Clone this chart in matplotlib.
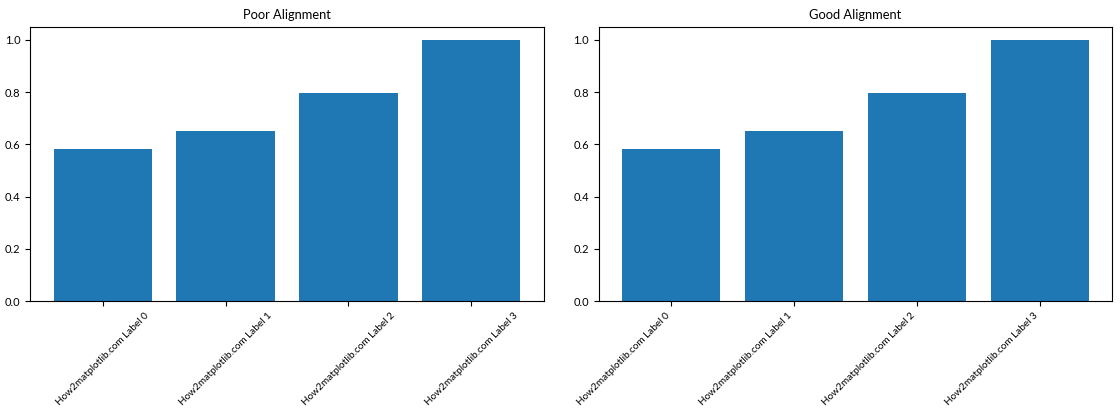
import matplotlib
matplotlib.use("Agg")
import matplotlib.pyplot as plt

# data
labels = ["How2matplotlib.com Label 0", "How2matplotlib.com Label 1",
          "How2matplotlib.com Label 2", "How2matplotlib.com Label 3"]
values = [0.583, 0.652, 0.796, 1.0]

plt.rcParams['font.family'] = ['Lato', 'DejaVu Sans']
plt.rcParams['font.size'] = 7.2
plt.rcParams['ytick.labelsize'] = 8

fig, (ax1, ax2) = plt.subplots(1, 2, figsize=(11.2, 4.2), dpi=100)

# 1. poor alignment: rotated but centered
ax1.bar(labels, values)
ax1.set_title("Poor Alignment", fontsize=9.3)
ax1.set_xticks(range(len(labels)))
ax1.set_xticklabels(labels, rotation=45)

# 2. good alignment: rotated and right aligned
ax2.bar(labels, values)
ax2.set_title("Good Alignment", fontsize=9.3)
ax2.set_xticks(range(len(labels)))
ax2.set_xticklabels(labels, rotation=45, ha='right')

plt.subplots_adjust(left=0.027, right=0.993, bottom=0.283, top=0.936, wspace=0.107)
plt.savefig("out.png")
